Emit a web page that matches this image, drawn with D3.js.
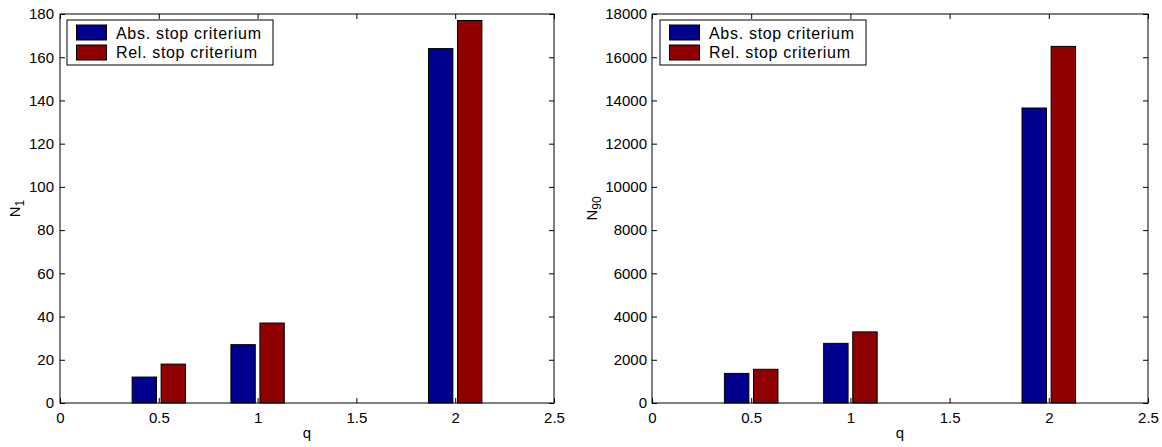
<!DOCTYPE html>
<html>
<head>
<meta charset="utf-8">
<script src="https://cdn.jsdelivr.net/npm/d3@7"></script>
<style>
  body { margin: 0; background: #fff; }
  svg text { font-family: "Liberation Sans", Arial, sans-serif; }
</style>
</head>
<body>
<div id="chart"></div>
<script>
// data
const qValues = [0.5, 1, 2];
const seriesNames = ['Abs. stop criterium', 'Rel. stop criterium'];
const colors = ['#00008f', '#8f0000'];

const n1Abs = [12, 27, 164];
const n1Rel = [18, 37, 177];
const n90Abs = [1370, 2760, 13650];
const n90Rel = [1560, 3290, 16500];

const xTicks = [0, 0.5, 1, 1.5, 2, 2.5];
const n1Ticks = d3.range(0, 181, 20);
const n90Ticks = d3.range(0, 18001, 2000);

const width = 1162;
const height = 447;

const svg = d3.select('#chart')
  .append('svg')
  .attr('width', width)
  .attr('height', height);

const panels = [
  { left: 60, right: 554, yLabel: 'N', ySub: '1', yMax: 180, ticks: n1Ticks, series: [n1Abs, n1Rel], labelX: 20, legendX: 67, pad: 6 },
  { left: 652, right: 1148, yLabel: 'N', ySub: '90', yMax: 18000, ticks: n90Ticks, series: [n90Abs, n90Rel], labelX: 597, legendX: 660, pad: 5 }
];

const plotTop = 14, plotBottom = 403;

panels.forEach(p => {
  const x = d3.scaleLinear().domain([0, 2.5]).range([p.left, p.right]);
  const y = d3.scaleLinear().domain([0, p.yMax]).range([plotBottom, plotTop]);
  // offsets within a group, in q units
  const sub = d3.scaleBand().domain(d3.range(seriesNames.length)).range([-0.135, 0.135]).paddingInner(0.16);

  const g = svg.append('g');

  // bars
  p.series.forEach((vals, si) => {
    g.append('g')
      .attr('fill', colors[si])
      .attr('stroke', '#000')
      .attr('stroke-width', 1)
      .selectAll('rect')
      .data(vals)
      .join('rect')
        .attr('x', (d, i) => x(qValues[i] + sub(si)))
        .attr('width', x(sub.bandwidth()) - x(0))
        .attr('y', d => y(d))
        .attr('height', d => y(0) - y(d));
  });

  // axes, ticks pointing inward
  const fmt = d3.format('');
  g.append('g')
    .attr('transform', `translate(0,${plotBottom})`)
    .call(d3.axisBottom(x).tickValues(xTicks).tickFormat(fmt).tickSizeInner(-5).tickSizeOuter(0).tickPadding(9))
    .call(a => a.select('.domain').remove())
    .attr('font-size', 15);
  g.append('g')
    .attr('transform', `translate(0,${plotTop})`)
    .call(d3.axisTop(x).tickValues(xTicks).tickFormat('').tickSizeInner(-5).tickSizeOuter(0))
    .call(a => a.select('.domain').remove());
  g.append('g')
    .attr('transform', `translate(${p.left},0)`)
    .call(d3.axisLeft(y).tickValues(p.ticks).tickFormat(fmt).tickSizeInner(-5).tickSizeOuter(0).tickPadding(p.pad))
    .call(a => a.select('.domain').remove())
    .attr('font-size', 15);
  g.append('g')
    .attr('transform', `translate(${p.right},0)`)
    .call(d3.axisRight(y).tickValues(p.ticks).tickFormat('').tickSizeInner(-5).tickSizeOuter(0))
    .call(a => a.select('.domain').remove());
  g.selectAll('.tick text').attr('fill', '#000');

  // frame
  g.append('rect')
    .attr('x', p.left).attr('y', plotTop)
    .attr('width', p.right - p.left).attr('height', plotBottom - plotTop)
    .attr('fill', 'none').attr('stroke', '#000');

  // axis titles
  g.append('text')
    .attr('x', (p.left + p.right) / 2).attr('y', 438)
    .attr('text-anchor', 'middle').attr('font-size', 15)
    .text('q');
  const yt = g.append('text')
    .attr('transform', `translate(${p.labelX},${(plotTop + plotBottom) / 2}) rotate(-90)`)
    .attr('text-anchor', 'middle').attr('font-size', 15);
  yt.append('tspan').text(p.yLabel);
  yt.append('tspan').attr('font-size', 12).attr('dy', 4).text(p.ySub);

  // legend
  const lg = g.append('g').attr('transform', `translate(${p.legendX},20)`);
  lg.append('rect').attr('width', 206).attr('height', 45)
    .attr('fill', '#fff').attr('stroke', '#000');
  seriesNames.forEach((name, i) => {
    lg.append('rect')
      .attr('x', 9.5).attr('y', 5 + i * 20)
      .attr('width', 30).attr('height', 15)
      .attr('fill', colors[i]).attr('stroke', '#000');
    lg.append('text')
      .attr('x', 49).attr('y', 18.5 + i * 19.5)
      .attr('font-size', 16)
      .attr('textLength', i === 0 ? 145 : 141)
      .attr('lengthAdjust', 'spacing')
      .text(name);
  });
});
</script>
</body>
</html>
